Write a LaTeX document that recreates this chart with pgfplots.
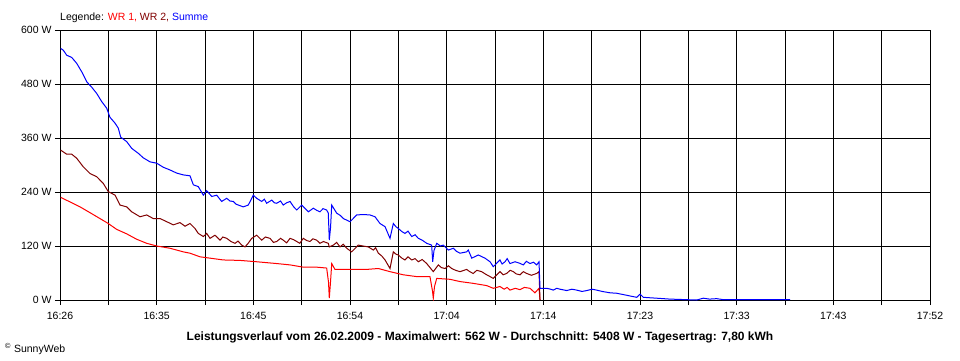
\documentclass[border=0pt]{standalone}
\usepackage{pgfplots}
\pgfplotsset{compat=1.18}
\usepackage{fontspec}
\setmainfont{Liberation Sans}
\definecolor{wrone}{RGB}{255,0,0}
\definecolor{wrtwo}{RGB}{128,0,0}
\definecolor{summe}{RGB}{0,0,255}
\begin{document}
\begin{tikzpicture}[x=1pt,y=1pt]
\useasboundingbox (0,0) rectangle (960,360);
\begin{axis}[
  at={(60pt,60pt)}, anchor=south west,
  scale only axis, width=870pt, height=270pt,
  xmin=0, xmax=86, ymin=0, ymax=600,
  xtick={0,9.5556,19.1111,28.6667,38.2222,47.7778,57.3333,66.8889,76.4444,86},
  minor xtick={4.7778,14.3333,23.8889,33.4444,43,52.5556,62.1111,71.6667,81.2222},
  xticklabels={16:26,16:35,16:45,16:54,17:04,17:14,17:23,17:33,17:43,17:52},
  ytick={0,120,240,360,480,600},
  yticklabels={0 W,120 W,240 W,360 W,480 W,600 W},
  tick align=outside, tick pos=left,
  major tick length=5pt, minor tick length=5pt,
  tick style={black, line width=1pt},
  minor tick style={black, line width=1pt},
  grid=both,
  major grid style={black, line width=1pt},
  minor grid style={black, line width=1pt},
  axis line style={black, line width=1pt},
  tick label style={font=\fontsize{10.5}{12}\selectfont},
  xticklabel style={yshift=-4pt},
  every axis plot/.append style={line width=1pt, mark=none},
]
\addplot[wrone] coordinates {
(0.07,228)(0.99,218)(1.98,207)(2.97,194)(3.95,181)(4.77,170)(5.60,157)(6.59,147)
(7.58,135)(8.57,126)(9.56,120)(10.87,115)(12.19,107)(12.85,104)(13.84,96)(14.83,93)
(16.14,89)(17.79,88)(19.44,85)(21.42,81)(22.74,78)(24.05,73)(25.37,73)(26.36,71)
(26.54,40)(26.62,4)(26.74,40)(26.86,81)(27.18,68)(28.67,68)(30.32,68)(31.47,70)
(32.62,63)(33.94,56)(35.26,52)(36.57,52)(36.82,20)(36.90,4)(37.02,30)(37.24,48)
(38.55,46)(39.54,41)(40.85,37)(42.18,32)(42.83,26)(43.49,30)(43.9,24)(44.2,28)(44.48,22)(45.0,26)(45.47,23)
(45.9,28)(46.46,26)(46.95,16)(47.35,26)(47.45,0)
};
\addplot[wrtwo] coordinates {
(0.07,333)(0.66,324)(1.16,324)(1.65,315)(2.30,296)(2.97,281)(3.63,274)(4.28,259)
(4.77,241)(5.44,233)(5.93,211)(6.59,207)(7.09,196)(7.91,185)(8.57,189)(9.22,181)
(9.89,181)(10.55,174)(11.20,167)(11.86,172)(12.36,164)(12.85,170)(13.34,159)(13.67,148)
(14.17,141)(14.50,148)(14.83,137)(15.32,144)(15.82,133)(16.1,140)(16.48,137)(16.9,130)(17.30,126)(17.6,131)(17.96,122)
(18.29,118)(18.6,126)(18.95,137)(19.44,144)(19.94,133)(20.3,140)(20.76,137)(21.1,128)(21.42,130)(21.8,137)(22.07,133)(22.4,127)(22.74,137)
(23.1,134)(23.40,130)(23.7,126)(24.05,137)(24.4,132)(24.71,130)(25.0,136)(25.37,133)(25.7,126)(26.03,130)(26.52,126)(26.62,118)(27.02,122)
(27.35,128)(27.68,118)(28.0,124)(28.34,115)(28.83,107)(29.49,122)(29.95,120)(30.48,118)(30.97,111)(31.2,116)(31.47,104)(31.8,98)
(32.13,89)(32.62,70)(32.95,107)(33.2,102)(33.44,100)(33.8,93)(34.10,89)(34.4,96)(34.77,89)(35.1,92)(35.42,85)(35.8,90)(36.25,81)
(36.90,63)(37.40,78)(37.7,72)(38.06,70)(38.4,76)(38.72,70)(39.1,66)(39.54,63)(40.20,68)(40.5,63)(40.85,59)(41.2,66)(41.68,63)
(42.1,57)(42.51,52)(42.83,48)(43.49,63)(43.8,56)(44.15,59)(44.5,66)(44.81,63)(45.1,58)(45.47,56)(45.8,63)(46.13,59)(46.6,55)(47.12,59)
(47.35,63)(47.45,0)
};
\addplot[summe] coordinates {
(0.07,559)(0.33,555)(0.66,544)(1.16,539)(1.65,526)(2.15,507)(2.64,485)(3.13,473)
(3.63,459)(4.12,441)(4.62,426)(4.94,406)(5.44,393)(5.76,382)(6.00,362)(6.59,352)
(7.09,337)(7.74,326)(8.23,316)(8.90,307)(9.56,304)(10.21,295)(10.87,289)(11.54,282)
(12.19,278)(12.85,276)(13.18,256)(13.67,252)(14.17,233)(14.50,243)(15.00,230)(15.49,233)
(15.98,219)(16.48,226)(16.8,220)(17.13,219)(17.4,213)(17.63,211)(18.12,207)(18.61,211)(19.11,233)(19.44,226)
(19.94,219)(20.2,224)(20.43,215)(20.93,222)(21.2,216)(21.42,215)(21.8,220)(22.07,211)(22.4,216)(22.74,219)(23.1,207)(23.40,200)(23.89,211)
(24.2,204)(24.55,196)(25.04,204)(25.4,199)(25.70,196)(26.0,203)(26.36,200)(26.52,193)(26.62,133)(26.74,160)(26.86,211)
(27.35,193)(27.7,188)(28.01,181)(28.67,174)(29.33,189)(29.98,190)(30.64,189)(31.14,185)(31.63,170)
(32.13,163)(32.62,137)(32.95,170)(33.2,163)(33.44,159)(33.8,152)(34.10,148)(34.4,153)(34.77,141)(35.1,145)(35.42,137)(35.8,133)(36.25,126)
(36.74,122)(36.84,85)(36.97,110)(37.24,126)(37.6,120)(37.89,122)(38.39,111)(38.88,115)(39.2,108)(39.54,104)
(40.20,107)(40.36,111)(40.70,93)(41.35,100)(42.01,93)(42.51,85)(42.83,74)(43.49,89)
(43.7,80)(43.99,85)(44.2,92)(44.48,81)(44.98,85)(45.4,82)(45.80,78)(46.1,86)(46.46,81)(46.8,84)(47.12,78)(47.35,85)(47.45,26)
(48.11,26)(48.5,24)(48.76,22)(49.1,26)(49.43,24)(50.09,21)(50.6,24)(51.08,22)(51.6,19)(52.07,21)(52.6,24)(53.05,22)(53.6,19)(54.37,16)
(55.03,15)(55.7,12)(56.34,9)(57.01,6)(57.34,13)(57.66,6)(58.3,5)(58.98,4)(60.30,2)(61.61,1)
(62.94,0)(63.59,4)(64.2,2)(64.91,3)(65.5,1)(66.23,1)(67.54,1)(72.16,1)
};
\end{axis}
\node[anchor=base west, inner sep=0pt, font=\fontsize{10.5}{12}\selectfont] at (60,340)
  {Legende: \textcolor{wrone}{WR 1,} \textcolor{wrtwo}{WR 2,} \textcolor{summe}{Summe}};
\node[anchor=base, inner sep=0pt, font=\fontsize{12}{14}\selectfont\bfseries] at (480,20)
  {Leistungsverlauf vom 26.02.2009 - Maximalwert: 562 W - Durchschnitt: 5408 W - Tagesertrag: 7,80 kWh};
\node[anchor=base west, inner sep=0pt, font=\fontsize{10.5}{12}\selectfont] at (5,7.5)
  {\textsuperscript{\textcopyright} SunnyWeb};
\end{tikzpicture}
\end{document}
